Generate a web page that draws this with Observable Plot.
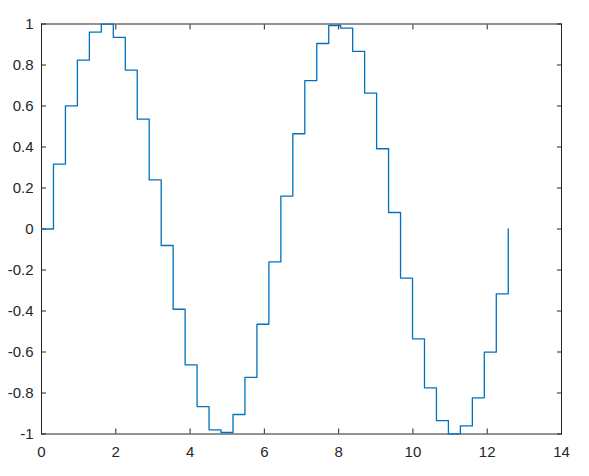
<!DOCTYPE html>
<html>
<head>
<meta charset="utf-8">
<script src="https://cdn.jsdelivr.net/npm/d3@7"></script>
<script src="https://cdn.jsdelivr.net/npm/@observablehq/plot@0.6"></script>
<style>
  html, body { margin: 0; padding: 0; background: #fff; }
  #chart svg { display: block; }
</style>
</head>
<body>
<div id="chart"></div>
<script>
const xs = [0, 0.3222, 0.6444, 0.9666, 1.2889, 1.6111, 1.9333, 2.2555, 2.5777, 2.8999,
  3.2222, 3.5444, 3.8666, 4.1888, 4.5110, 4.8332, 5.1554, 5.4777, 5.7999, 6.1221,
  6.4443, 6.7665, 7.0887, 7.4109, 7.7332, 8.0554, 8.3776, 8.6998, 9.0220, 9.3442,
  9.6664, 9.9887, 10.3109, 10.6331, 10.9553, 11.2775, 11.5997, 11.9219, 12.2442, 12.5664];
const ys = [0, 0.3167, 0.6007, 0.8233, 0.9604, 0.9992, 0.9350, 0.7750, 0.5358, 0.2393,
  -0.0805, -0.3914, -0.6631, -0.8660, -0.9796, -0.9928, -0.9048, -0.7237, -0.4647, -0.1604,
  0.1604, 0.4647, 0.7237, 0.9048, 0.9928, 0.9796, 0.8660, 0.6631, 0.3914, 0.0805,
  -0.2393, -0.5358, -0.7750, -0.9350, -0.9992, -0.9604, -0.8233, -0.6007, -0.3167, 0];
const xTicks = [0, 2, 4, 6, 8, 10, 12, 14];
const yTicks = [-1, -0.8, -0.6, -0.4, -0.2, 0, 0.2, 0.4, 0.6, 0.8, 1];

const data = xs.map((x, i) => ({x, y: ys[i]}));
const axisColor = "#262626";

const chart = Plot.plot({
  width: 589,
  height: 476,
  marginLeft: 41,
  marginRight: 28,
  marginTop: 23.5,
  marginBottom: 42.5,
  style: {fontFamily: "'Liberation Sans', Arial, Helvetica, sans-serif", fontSize: "15px", color: axisColor, background: "#fff"},
  x: {domain: [0, 14]},
  y: {domain: [-1, 1]},
  marks: [
    Plot.frame({stroke: axisColor, strokeWidth: 1}),
    Plot.axisX({anchor: "bottom", ticks: xTicks, tickSize: -5, tickPadding: 17, tickFormat: d => String(d), label: null, stroke: axisColor, fill: axisColor}),
    Plot.axisX({anchor: "top", ticks: xTicks, tickSize: -5, tickFormat: () => "", label: null, stroke: axisColor}),
    Plot.axisY({anchor: "left", ticks: yTicks, tickSize: -5, tickPadding: 13, tickFormat: d => String(d), label: null, stroke: axisColor, fill: axisColor}),
    Plot.axisY({anchor: "right", ticks: yTicks, tickSize: -5, tickFormat: () => "", label: null, stroke: axisColor}),
    Plot.line(data, {x: "x", y: "y", curve: "step-after", stroke: "#0072BD", strokeWidth: 1.3})
  ]
});
document.getElementById("chart").appendChild(chart);
</script>
</body>
</html>
